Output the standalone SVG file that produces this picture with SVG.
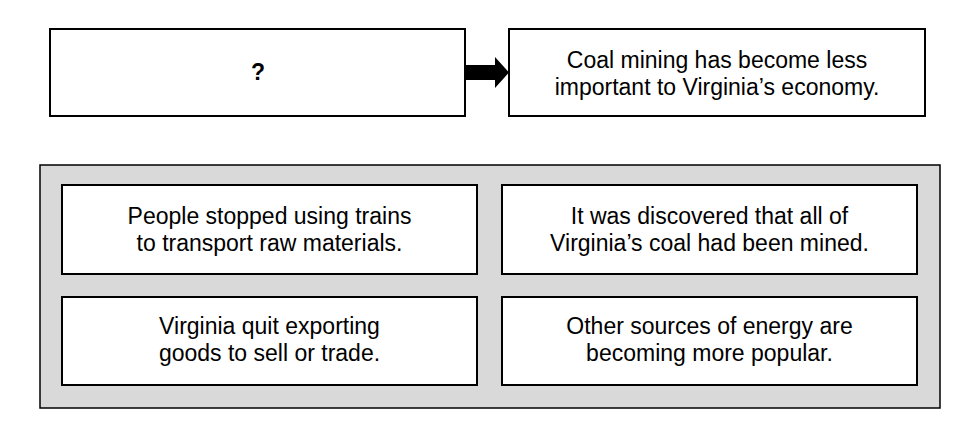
<svg xmlns="http://www.w3.org/2000/svg" width="955" height="427" viewBox="0 0 955 427">
<style>
.box{fill:#fff;stroke:#000;stroke-width:2}
.t{font-family:"Liberation Sans",Arial,sans-serif;font-size:23px;fill:#000;text-anchor:middle}
</style>
<rect width="955" height="427" fill="#fff"/>
<g id="container">
<rect x="40" y="165" width="900" height="243" fill="#d9d9d9" stroke="#000" stroke-width="1.5"/>
</g>
<g id="question">
<rect class="box" x="50" y="29" width="415" height="87"/>
<text class="t" x="258" y="80" font-weight="bold">?</text>
</g>
<g id="effect">
<rect class="box" x="509" y="29" width="416" height="87"/>
<text class="t" x="717" y="68">Coal mining has become less</text>
<text class="t" x="717" y="95">important to Virginia’s economy.</text>
</g>
<g id="optA">
<rect class="box" x="62" y="185" width="415" height="89"/>
<text class="t" x="269.5" y="224">People stopped using trains</text>
<text class="t" x="269.5" y="251">to transport raw materials.</text>
</g>
<g id="optB">
<rect class="box" x="502" y="185" width="415" height="89"/>
<text class="t" x="709.5" y="224">It was discovered that all of</text>
<text class="t" x="709.5" y="251">Virginia’s coal had been mined.</text>
</g>
<g id="optC">
<rect class="box" x="62" y="297" width="415" height="88"/>
<text class="t" x="269.5" y="334">Virginia quit exporting</text>
<text class="t" x="269.5" y="361">goods to sell or trade.</text>
</g>
<g id="optD">
<rect class="box" x="502" y="297" width="415" height="88"/>
<text class="t" x="709.5" y="334">Other sources of energy are</text>
<text class="t" x="709.5" y="361">becoming more popular.</text>
</g>
<g id="connectors">
<polygon points="465,65 495,65 495,57 509,72.5 495,88 495,80 465,80" fill="#000"/>
</g>
</svg>
